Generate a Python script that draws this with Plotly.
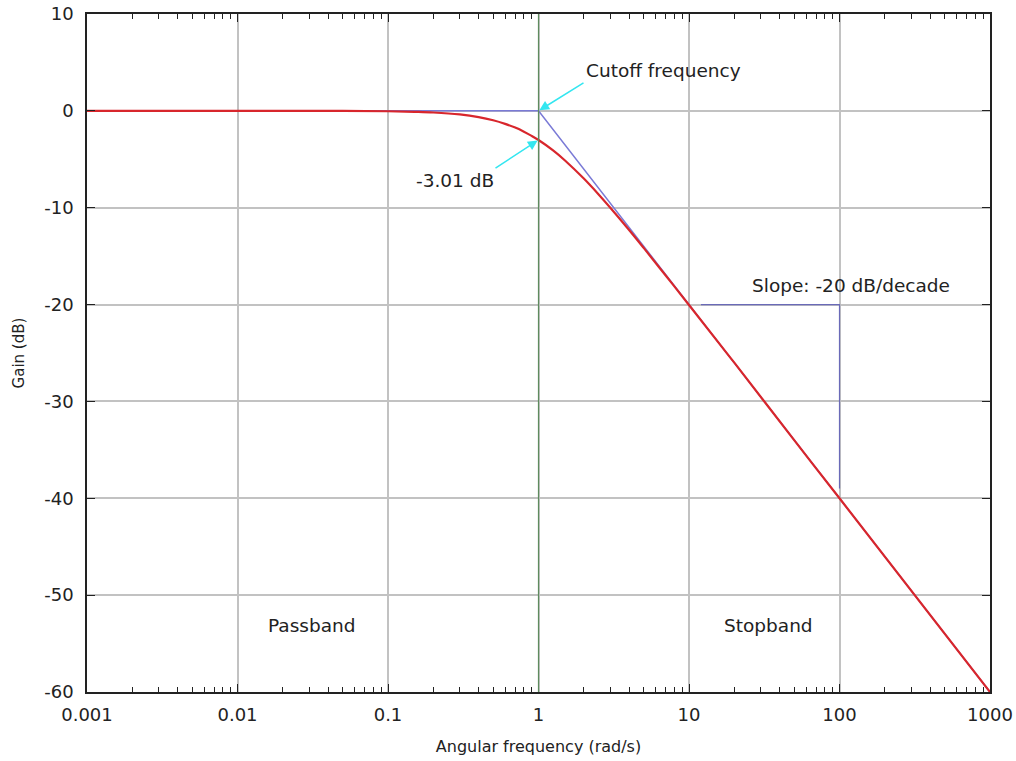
import plotly.graph_objects as go

omega = [0.001, 0.01, 0.05, 0.1, 0.15, 0.2, 0.3, 0.4, 0.5, 0.6, 0.7, 0.8, 0.9, 1.0,
         1.25, 1.5, 2.0, 2.5, 3.0, 4.0, 5.0, 7.0, 10.0, 20.0, 50.0, 100.0, 1000.0]
gain_db = [0.0, 0.0, -0.01, -0.04, -0.1, -0.17, -0.37, -0.64, -0.97, -1.34, -1.73, -2.15,
           -2.58, -3.01, -4.08, -5.12, -6.99, -8.6, -10.0, -12.3, -14.15, -17.0, -20.04,
           -26.0, -34.0, -40.0, -60.0]

# Asymptotes
asym_omega = [0.001, 1.0, 1000.0]
asym_gain = [0.0, 0.0, -60.0]

# Slope indicator
slope_omega = [12.0, 100.0, 100.0]
slope_gain = [-20.0, -20.0, -39.0]

cutoff = 1.0
cutoff_gain = -3.01

x_ticks = [0.001, 0.01, 0.1, 1, 10, 100, 1000]
x_labels = ["0.001", "0.01", "0.1", "1", "10", "100", "1000"]
y_ticks = [-60, -50, -40, -30, -20, -10, 0, 10]
y_labels = ["-60", "-50", "-40", "-30", "-20", "-10", "0", "10"]

FONT = "DejaVu Sans"
INK = "#222222"
fig = go.Figure()

fig.add_vline(x=cutoff, line=dict(color="#5e8c5e", width=1.2), layer="above")

fig.add_trace(go.Scatter(x=asym_omega, y=asym_gain, mode="lines",
                         line=dict(color="#7a7ad6", width=1.5), showlegend=False,
                         hoverinfo="skip"))
fig.add_trace(go.Scatter(x=slope_omega, y=slope_gain, mode="lines",
                         line=dict(color="#6a6ab8", width=1.2), showlegend=False,
                         hoverinfo="skip"))
fig.add_trace(go.Scatter(x=omega, y=gain_db, mode="lines", line_shape="spline",
                         line=dict(color="#d8262c", width=2.2), showlegend=False))

txt = dict(family=FONT, size=18.5, color=INK)
fig.add_annotation(x=0, y=cutoff_gain + 3.01, xref="x", yref="y",
                   text="Cutoff frequency", showarrow=True, arrowhead=2,
                   arrowsize=1.3, arrowwidth=1.5, arrowcolor="#33e6f0",
                   ax=45, ay=-28, xanchor="left", yanchor="bottom", font=txt,
                   standoff=1)
fig.add_annotation(x=0, y=cutoff_gain, xref="x", yref="y",
                   text="-3.01 dB", showarrow=True, arrowhead=2,
                   arrowsize=1.3, arrowwidth=1.5, arrowcolor="#33e6f0",
                   ax=-43, ay=28, xanchor="right", yanchor="top", font=txt,
                   standoff=1)
fig.add_annotation(x=1.495 - 3, y=-53.1, xref="x", yref="y", text="Passband",
                   showarrow=False, font=txt)
fig.add_annotation(x=1.53, y=-53.1, xref="x", yref="y", text="Stopband",
                   showarrow=False, font=txt)
fig.add_annotation(x=2.076, y=-18.0, xref="x", yref="y", text="Slope: -20 dB/decade",
                   showarrow=False, font=txt)

axis_common = dict(showline=True, linecolor=INK, linewidth=1.5, mirror="ticks",
                   ticks="inside", ticklen=8, tickcolor=INK,
                   showgrid=True, gridcolor="#c2c2c2", gridwidth=2,
                   zeroline=False, tickfont=dict(family=FONT, size=18, color=INK),
                   ticklabeloverflow="allow")

fig.update_xaxes(type="log", range=[-3, 3], tickvals=x_ticks, ticktext=x_labels,
                 title=dict(text="Angular frequency (rad/s)",
                            font=dict(family=FONT, size=16, color=INK), standoff=16),
                 minor=dict(ticks="inside", ticklen=5, tickcolor=INK, dtick="D1",
                            showgrid=False),
                 ticklabelstandoff=6, automargin=False, **axis_common)
fig.update_yaxes(range=[-60, 10], tickvals=y_ticks, ticktext=y_labels,
                 title=dict(text="Gain (dB)",
                            font=dict(family=FONT, size=15, color=INK), standoff=16),
                 ticklabelstandoff=8, automargin=False, **axis_common)

fig.update_layout(width=1016, height=761, plot_bgcolor="white", paper_bgcolor="white",
                  margin=dict(l=87, r=26, t=14, b=69, autoexpand=False), showlegend=False)

fig.write_html("out.html", config={"displayModeBar": False},
               post_script="document.body.style.margin='0px';"
                           "document.body.style.overflow='hidden';")
